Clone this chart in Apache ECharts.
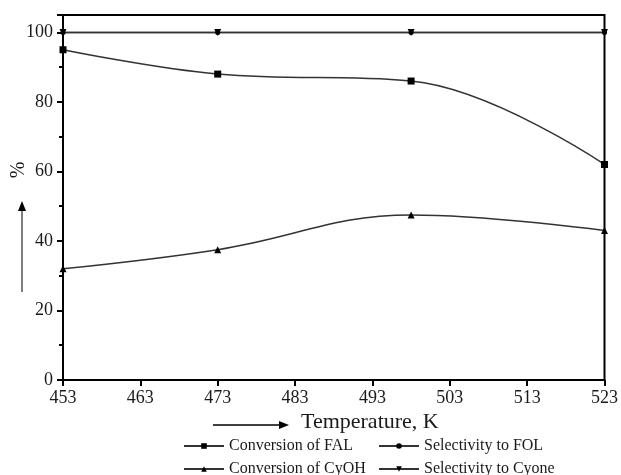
<!DOCTYPE html>
<html>
<head>
<meta charset="utf-8">
<script src="https://cdn.jsdelivr.net/npm/echarts@6/dist/echarts.min.js"></script>
<style>
  html, body { margin: 0; padding: 0; background: #fff; }
  #chart { width: 621px; height: 475px; }
</style>
</head>
<body>
<div id="chart"></div>
<script>
// temperature (K) of each run
const temps = [453, 473, 498, 523];
const xTicks = [453, 463, 473, 483, 493, 503, 513, 523];

// % values
const convFAL = [95, 88, 86, 62];
const selFOL = [100, 100, 100, 100];
const convCyOH = [32, 37.5, 47.5, 43];
const selCyone = [100, 100, 100, 100];

const serif = 'Liberation Serif';
const ink = '#1a1a1a';

function pairs(ys) {
  return temps.map((t, i) => [t, ys[i]]);
}

function lineSeries(name, ys, symbol, rotate) {
  return {
    name: name,
    type: 'line',
    data: pairs(ys),
    smooth: 0.4,
    symbol: symbol,
    symbolSize: symbol === 'circle' ? 5 : 7,
    symbolRotate: rotate || 0,
    lineStyle: { color: '#333', width: 1.5 },
    itemStyle: { color: '#000' },
    emphasis: { disabled: true }
  };
}

function legendAt(name, left, top) {
  return {
    data: [name],
    left: left,
    top: top,
    itemWidth: 40,
    itemHeight: 7,
    itemGap: 4,
    padding: 0,
    textStyle: { fontFamily: serif, fontSize: 16, color: ink }
  };
}

const chart = echarts.init(document.getElementById('chart'), null, { renderer: 'canvas' });

chart.setOption({
  backgroundColor: '#ffffff',
  animation: false,
  grid: {
    left: 63, right: 13, top: 15, bottom: 95,
    show: true, borderColor: '#000', borderWidth: 2
  },
  xAxis: {
    type: 'value',
    min: 453,
    max: 523,
    axisLine: { lineStyle: { color: '#000', width: 2 } },
    axisTick: { customValues: xTicks, length: 6, lineStyle: { color: '#000', width: 2 } },
    axisLabel: { customValues: xTicks, margin: 9, fontFamily: serif, fontSize: 18, color: ink },
    splitLine: { show: false }
  },
  yAxis: {
    type: 'value',
    min: 0,
    max: 105,
    interval: 20,
    axisLine: { show: true, lineStyle: { color: '#000', width: 2 } },
    axisTick: { show: true, length: 6, lineStyle: { color: '#000', width: 2 } },
    minorTick: { show: true, splitNumber: 2, length: 4, lineStyle: { color: '#000', width: 2 } },
    axisLabel: { showMaxLabel: false, margin: 10, fontFamily: serif, fontSize: 18, color: ink },
    splitLine: { show: false }
  },
  legend: [
    legendAt('Conversion of FAL', 183, 438),
    legendAt('Selectivity to FOL', 378, 438),
    legendAt('Conversion of CyOH', 183, 461),
    legendAt('Selectivity to Cyone', 378, 461)
  ],
  series: [
    lineSeries('Conversion of FAL', convFAL, 'rect'),
    lineSeries('Selectivity to FOL', selFOL, 'circle'),
    lineSeries('Conversion of CyOH', convCyOH, 'triangle'),
    lineSeries('Selectivity to Cyone', selCyone, 'triangle', 180)
  ],
  graphic: [
    // x axis title with arrow
    { type: 'line', shape: { x1: 213, y1: 425, x2: 282, y2: 425 }, style: { stroke: '#000', lineWidth: 1.5 } },
    { type: 'polygon', shape: { points: [[289, 425], [279, 421], [279, 429]] }, style: { fill: '#000' } },
    { type: 'text', left: 301, top: 411,
      style: { text: 'Temperature, K', fontFamily: serif, fontSize: 22, fill: ink } },
    // y axis title with arrow
    { type: 'line', shape: { x1: 22, y1: 292, x2: 22, y2: 208 }, style: { stroke: '#555', lineWidth: 1.5 } },
    { type: 'polygon', shape: { points: [[22, 201], [18, 211], [26, 211]] }, style: { fill: '#000' } },
    { type: 'text', x: 19, y: 170, rotation: Math.PI / 2,
      style: { text: '%', fontFamily: serif, fontSize: 20, fill: ink, align: 'center', verticalAlign: 'middle' } }
  ]
});
</script>
</body>
</html>
